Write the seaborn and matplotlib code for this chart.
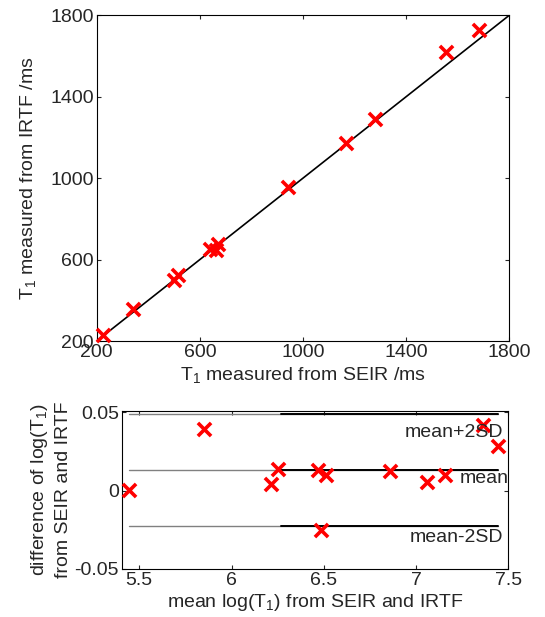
import numpy as np
import matplotlib
matplotlib.use("Agg")
import matplotlib.pyplot as plt
import seaborn as sns
import pandas as pd

sns.set_style("ticks")
plt.rcParams["font.family"] = ["Liberation Sans", "DejaVu Sans"]
plt.rcParams["mathtext.fontset"] = "custom"
plt.rcParams["mathtext.rm"] = "Liberation Sans"
plt.rcParams["mathtext.it"] = "Liberation Sans"
plt.rcParams.update({"xtick.direction": "in", "ytick.direction": "in",
                     "xtick.top": True, "ytick.right": True,
                     "xtick.major.size": 3, "ytick.major.size": 3,
                     "xtick.major.pad": 2, "ytick.major.pad": 2,
                     "axes.linewidth": 0.8, "font.size": 14})

# top panel: T1 values (ms)
t1_seir = [226, 340, 498, 515, 641, 664, 670, 943, 1165, 1278, 1554, 1682]
t1_irtf = [230, 355, 500, 522, 650, 648, 677, 958, 1171, 1293, 1621, 1729]
identity = [200, 1800]
t1_ticks = [200, 600, 1000, 1400, 1800]

# bottom panel: Bland-Altman on log(T1)
log_mean = [5.446, 5.851, 6.212, 6.253, 6.470, 6.485, 6.512, 6.859, 7.061, 7.157, 7.365, 7.443]
log_diff = [0.0004, 0.0394, 0.0041, 0.0139, 0.0132, -0.0251, 0.0100, 0.0126, 0.0058, 0.0100, 0.0420, 0.0286]
mean_d = 0.0132
upper_d = 0.0488
lower_d = -0.0223
black_start = 6.27
ba_xticks = [5.5, 6, 6.5, 7, 7.5]
ba_yticks = [-0.05, 0, 0.05]

top = pd.DataFrame({"seir": t1_seir, "irtf": t1_irtf})
ba = pd.DataFrame({"m": log_mean, "d": log_diff})

fig = plt.figure(figsize=(5.45, 6.17), dpi=100)
ax1 = fig.add_axes([0.1774, 0.4473, 0.757, 0.5279])
ax2 = fig.add_axes([0.2233, 0.0778, 0.7094, 0.2566])

# scatter + identity line
sns.lineplot(x=identity, y=identity, color="black", linewidth=1.2, ax=ax1)
sns.scatterplot(data=top, x="seir", y="irtf", marker="x", color="red",
                s=90, linewidth=2.6, ax=ax1, zorder=3, clip_on=False)
ax1.set_xlim(200, 1800)
ax1.set_ylim(200, 1800)
ax1.set_xticks(t1_ticks)
ax1.set_yticks(t1_ticks)
ax1.set_xlabel(r"T$_{1}$ measured from SEIR /ms", labelpad=3)
ax1.set_ylabel(r"T$_{1}$ measured from IRTF /ms", labelpad=9)

# Bland-Altman
xmin, xmax = min(log_mean), max(log_mean)
for yv in [upper_d, mean_d, lower_d]:
    ax2.plot([xmin, xmax], [yv, yv], color="#808080", linewidth=1.0)
    ax2.plot([black_start, xmax], [yv, yv], color="black", linewidth=1.4)
sns.scatterplot(data=ba, x="m", y="d", marker="x", color="red",
                s=90, linewidth=2.6, ax=ax2, zorder=3, clip_on=False)
ax2.text(7.47, upper_d - 0.0115, "mean+2SD", ha="right", va="center")
ax2.text(7.5, mean_d - 0.0053, "mean", ha="right", va="center")
ax2.text(7.47, lower_d - 0.0077, "mean-2SD", ha="right", va="center")
ax2.set_xlim(5.405, 7.5)
ax2.set_ylim(-0.05, 0.0511)
ax2.set_xticks(ba_xticks)
ax2.set_xticklabels(["5.5", "6", "6.5", "7", "7.5"])
ax2.set_yticks(ba_yticks)
ax2.set_yticklabels(["-0.05", "0", "0.05"])
ax2.set_xlabel(r"mean log(T$_{1}$) from SEIR and IRTF", labelpad=2)
ax2.set_ylabel("difference of log(T$_{1}$)\nfrom SEIR and IRTF", labelpad=2,
               linespacing=1.35)

for ax in (ax1, ax2):
    for s in ax.spines.values():
        s.set_visible(True)
        s.set_color("black")

fig.savefig("out.png", dpi=100)
